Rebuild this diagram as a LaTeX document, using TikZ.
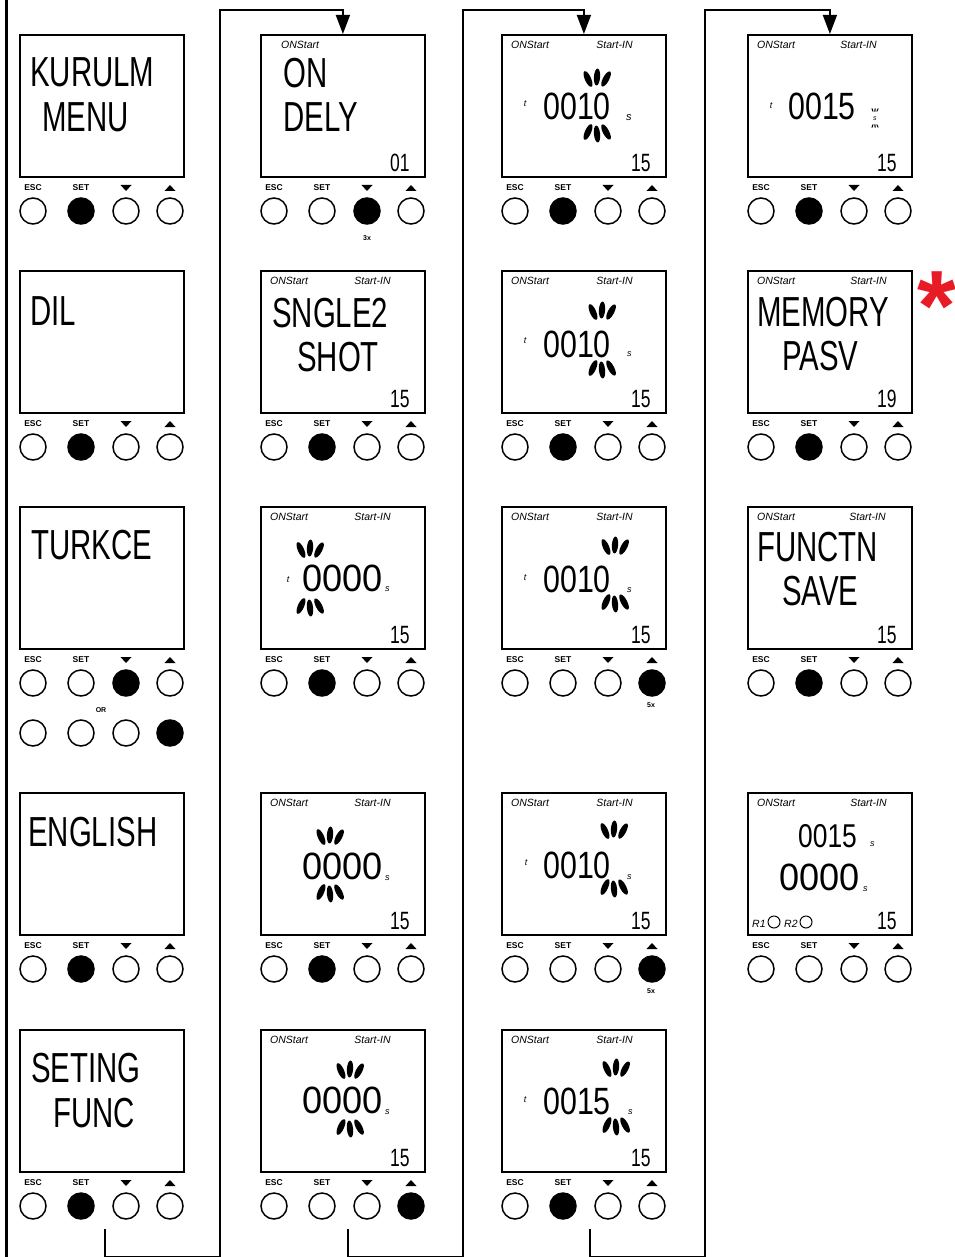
\documentclass[tikz,border=0pt]{standalone}
\usepackage{fontspec}
\setmainfont{Liberation Sans}
\newfontfamily\lcd[FakeStretch=0.7]{Liberation Sans}
\newfontfamily\lcdmid[FakeStretch=0.8]{Liberation Sans}
\newfontfamily\lcdnum[FakeStretch=0.95]{Liberation Sans}
\usetikzlibrary{arrows.meta}
\definecolor{astRed}{RGB}{232,28,36}

% one display with its four keys; #4 = pressed key (0 = none)
\newcommand\lcdpanel[4]{%
  \node[scr] (#1) at (#2,#3) {};
  \node[key] (#1esc) at (#2+14,#3+154) {ESC};
  \node[key] (#1set) at (#2+62,#3+154) {SET};
  \fill (#2+101.5,#3+151) -- (#2+112.5,#3+151) -- (#2+107,#3+157) -- cycle;
  \fill (#2+145.5,#3+157) -- (#2+156.5,#3+157) -- (#2+151,#3+151) -- cycle;
  \foreach \k/\dx in {1/14,2/62,3/107,4/151}{%
    \ifnum\k=#4\relax\def\keyfill{black}\else\def\keyfill{white}\fi
    \node[btn,fill=\keyfill] (#1k\k) at (#2+\dx,#3+177) {};}%
}
\newcommand\lcdhead[2]{%
  \node[tag,anchor=west] (#1on) at ([shift={(10,11)}]#1.north west) {ONStart};
  \node[tag,anchor=east] (#1in) at ([shift={(-#2,11)}]#1.north east) {Start-IN};}
\newcommand\lcdstep[2]{%
  \node[lcds,anchor=base east] (#1no) at ([shift={(-16,-6)}]#1.south east) {#2};}
% flashing marks over / under the digit being set
\newcommand\blinkup[2]{%
  \foreach \dx/\a/\dy in {-9/24/2,0/-4/0,9/-28/2}
    \fill[rotate around={\a:(#1+\dx,#2+\dy)}] (#1+\dx,#2+\dy) ellipse [x radius=3.1pt,y radius=8.5pt];}
\newcommand\blinkdn[2]{%
  \foreach \dx/\a/\dy in {-9/-24/-2,0/6/0,9/28/-2}
    \fill[rotate around={\a:(#1+\dx,#2+\dy)}] (#1+\dx,#2+\dy) ellipse [x radius=3.1pt,y radius=8.5pt];}

\begin{document}
\begin{tikzpicture}[x=1pt, y=-1pt,
  scr/.style={draw, line width=1.8pt, minimum width=164pt, minimum height=142pt, inner sep=0pt, anchor=north west},
  btn/.style={circle, draw, line width=1.5pt, minimum size=26pt, inner sep=0pt},
  lamp/.style={circle, draw, line width=1pt, minimum size=12pt, inner sep=0pt},
  key/.style={font=\fontsize{8.5}{8.5}\selectfont\bfseries, inner sep=0pt},
  note/.style={font=\fontsize{7}{7}\selectfont\bfseries, inner sep=0pt},
  tag/.style={font=\fontsize{10.5}{10.5}\selectfont\itshape, inner sep=0pt},
  unit/.style={font=\fontsize{9}{9}\selectfont\itshape, inner sep=0pt, anchor=base west},
  lcd/.style={font=\lcd\fontsize{42}{42}\selectfont, inner sep=0pt, anchor=base west},
  lcdz/.style={font=\lcdnum\fontsize{38}{38}\selectfont, inner sep=0pt, anchor=base west},
  lcdn/.style={font=\lcdmid\fontsize{38}{38}\selectfont, inner sep=0pt, anchor=base west},
  lcds/.style={font=\lcd\fontsize{25}{25}\selectfont, inner sep=0pt},
  conn/.style={line width=1.5pt},
  arr/.style={conn, -{Triangle[width=14pt,length=19pt]}}]
\useasboundingbox (0,0) rectangle (954,1257);
\draw[line width=3pt] (6,0) -- (6,1257);

% column 1
\lcdpanel{p11}{19}{34}{2}
\node[lcd] (p11a) at (30,87) {KURULM};
\node[lcd] (p11b) at (42,132) {MENU};
\lcdpanel{p21}{19}{270}{2}
\node[lcd] (p21a) at (30,325) {DIL};
\lcdpanel{p31}{19}{506}{3}
\node[lcd] (p31a) at (31,559) {TURKCE};
\node[note] (p31or) at (101,710) {OR};
\node[btn] (p31o1) at (33,733) {};
\node[btn] (p31o2) at (81,733) {};
\node[btn] (p31o3) at (126,733) {};
\node[btn,fill=black] (p31o4) at (170,733) {};
\lcdpanel{p41}{19}{792}{2}
\node[lcd] (p41a) at (28,846) {ENGLISH};
\lcdpanel{p51}{19}{1029}{2}
\node[lcd] (p51a) at (31,1082) {SETING};
\node[lcd] (p51b) at (53,1127) {FUNC};

% column 2
\lcdpanel{p12}{260}{34}{3}
\node[tag,anchor=west] (p12on) at (281,45) {ONStart};
\node[lcd] (p12a) at (283,88) {ON};
\node[lcd] (p12b) at (283,132) {DELY};
\lcdstep{p12}{01}
\node[note] (p12x) at (367,238) {3x};

\lcdpanel{p22}{260}{270}{2}
\lcdhead{p22}{35}
\node[lcd] (p22a) at (272,327) {SNGLE2};
\node[lcd] (p22b) at (297,371) {SHOT};
\lcdstep{p22}{15}

\lcdpanel{p32}{260}{506}{2}
\lcdhead{p32}{35}
\node[unit,anchor=center] (p32t) at (288,580) {t};
\node[lcdz] (p32a) at (302,591) {0000};
\node[unit] (p32s) at (385,591) {s};
\blinkup{310}{548}
\blinkdn{310}{608}
\lcdstep{p32}{15}

\lcdpanel{p42}{260}{792}{2}
\lcdhead{p42}{35}
\node[lcdz] (p42a) at (302,879) {0000};
\node[unit] (p42s) at (385,880) {s};
\blinkup{330}{835}
\blinkdn{330}{894}
\lcdstep{p42}{15}

\lcdpanel{p52}{260}{1029}{4}
\lcdhead{p52}{35}
\node[lcdz] (p52a) at (302,1113) {0000};
\node[unit] (p52s) at (385,1114) {s};
\blinkup{350}{1069}
\blinkdn{350}{1129}
\lcdstep{p52}{15}

% column 3
\lcdpanel{p13}{501}{34}{2}
\lcdhead{p13}{34}
\node[unit,anchor=center] (p13t) at (525,104) {t};
\node[lcdn] (p13a) at (543,120) {0010};
\node[unit,font=\fontsize{11}{11}\selectfont\itshape] (p13s) at (626,121) {s};
\blinkup{597}{77}
\blinkdn{597}{134}
\lcdstep{p13}{15}

\lcdpanel{p23}{501}{270}{2}
\lcdhead{p23}{34}
\node[unit,anchor=center] (p23t) at (525,341) {t};
\node[lcdn] (p23a) at (543,357) {0010};
\node[unit] (p23s) at (627,356) {s};
\blinkup{602}{310}
\blinkdn{602}{370}
\lcdstep{p23}{15}

\lcdpanel{p33}{501}{506}{4}
\lcdhead{p33}{34}
\node[unit,anchor=center] (p33t) at (525,578) {t};
\node[lcdn] (p33a) at (543,592) {0010};
\node[unit] (p33s) at (627,592) {s};
\blinkup{615}{545}
\blinkdn{615}{604}
\lcdstep{p33}{15}
\node[note] (p33x) at (651,705) {5x};

\lcdpanel{p43}{501}{792}{4}
\lcdhead{p43}{34}
\node[unit,anchor=center] (p43t) at (526,863) {t};
\node[lcdn] (p43a) at (543,878) {0010};
\node[unit] (p43s) at (627,879) {s};
\blinkup{614}{829}
\blinkdn{614}{889}
\lcdstep{p43}{15}
\node[note] (p43x) at (651,991) {5x};

\lcdpanel{p53}{501}{1029}{2}
\lcdhead{p53}{34}
\node[unit,anchor=center] (p53t) at (525,1100) {t};
\node[lcdn] (p53a) at (543,1114) {0015};
\node[unit] (p53s) at (628,1114) {s};
\blinkup{616}{1067}
\blinkdn{616}{1127}
\lcdstep{p53}{15}

% column 4
\lcdpanel{p14}{747}{34}{2}
\lcdhead{p14}{36}
\node[unit,anchor=center] (p14t) at (771,106) {t};
\node[lcdn] (p14a) at (788,120) {0015};
\node[unit,font=\fontsize{7}{7}\selectfont\itshape] (p14s) at (873,121) {s};
\foreach \dx/\a in {-2.5/20,0/-5,2.5/-25}
  \fill[rotate around={\a:(875+\dx,110)}] (875+\dx,110) ellipse [x radius=0.6pt,y radius=2pt];
\foreach \dx/\a in {-2.5/-20,0/5,2.5/25}
  \fill[rotate around={\a:(875+\dx,126)}] (875+\dx,126) ellipse [x radius=0.6pt,y radius=2pt];
\lcdstep{p14}{15}

\lcdpanel{p24}{747}{270}{2}
\lcdhead{p24}{26}
\node[lcd] (p24a) at (757,326) {MEMORY};
\node[lcd] (p24b) at (782,370) {PASV};
\lcdstep{p24}{19}
\node[font=\fontsize{100}{100}\selectfont\bfseries, text=astRed, inner sep=0pt] (star) at (937,306) {*};

\lcdpanel{p34}{747}{506}{2}
\lcdhead{p34}{27}
\node[lcd] (p34a) at (757,561) {FUNCTN};
\node[lcd] (p34b) at (782,605) {SAVE};
\lcdstep{p34}{15}

\lcdpanel{p44}{747}{792}{0}
\lcdhead{p44}{26}
\node[lcdn,font=\lcdmid\fontsize{33}{33}\selectfont] (p44a) at (798,847) {0015};
\node[unit] (p44s1) at (870,846) {s};
\node[lcdz] (p44b) at (779,890) {0000};
\node[unit] (p44s2) at (863,891) {s};
\node[tag,anchor=west] (p44r1) at (752,924) {R1};
\node[lamp] (p44l1) at (774,922) {};
\node[tag,anchor=west] (p44r2) at (784,924) {R2};
\node[lamp] (p44l2) at (806,922) {};
\lcdstep{p44}{15}

% flow between the columns
\coordinate (c1) at ([xshift=86pt,yshift=-56pt]p51.south west);
\coordinate (c2) at ([xshift=88pt,yshift=-56pt]p52.south west);
\coordinate (c3) at ([xshift=89pt,yshift=-56pt]p53.south west);
\draw[arr] (c1) -- ++(0,28) -| ++(115,-1247) -| (p12.north);
\draw[arr] (c2) -- ++(0,28) -| ++(115,-1247) -| (p13.north);
\draw[arr] (c3) -- ++(0,28) -| ++(115,-1247) -| (p14.north);
\end{tikzpicture}
\end{document}
